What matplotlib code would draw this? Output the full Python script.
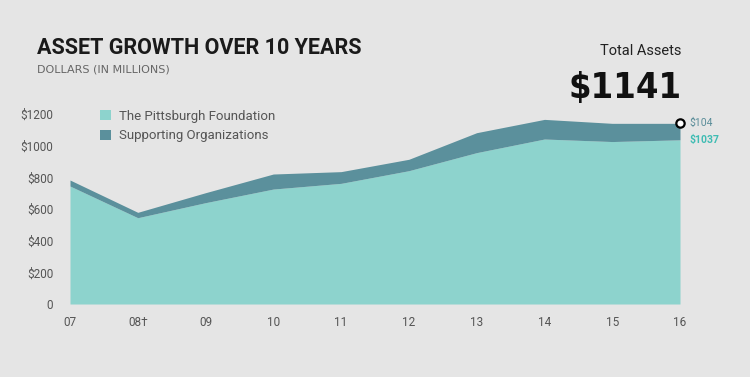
import matplotlib.pyplot as plt
import numpy as np

years = ["07", "08\u2020", "09", "10", "11", "12", "13", "14", "15", "16"]
foundation = [745, 545, 640, 726, 762, 842, 956, 1042, 1026, 1037]
supporting = [38, 34, 63, 95, 74, 72, 126, 124, 115, 104]
y_ticks = [0, 200, 400, 600, 800, 1000, 1200]
y_tick_labels = ["0", "$200", "$400", "$600", "$800", "$1000", "$1200"]

BG = "#e5e5e5"
C_FOUND = "#8dd3cd"
C_SUPP = "#5b909c"
C_TEXT = "#555555"

plt.rcParams["font.family"] = ["Roboto", "DejaVu Sans"]

fig = plt.figure(figsize=(7.5, 3.77), dpi=100, facecolor=BG)
ax = fig.add_axes([70 / 750, 73 / 377, 610 / 750, 190 / 377], facecolor=BG)

x = np.arange(len(years))
found = np.array(foundation)
total = found + np.array(supporting)
ax.fill_between(x, 0, found, color=C_FOUND, lw=0, label="The Pittsburgh Foundation")
ax.fill_between(x, found, total, color=C_SUPP, lw=0, label="Supporting Organizations")

ax.set_xlim(0, len(years) - 1)
ax.set_ylim(0, 1200)
ax.set_xticks(x)
ax.set_xticklabels(years)
ax.set_yticks(y_ticks)
ax.set_yticklabels(y_tick_labels)
ax.tick_params(length=0, labelsize=8.5, colors=C_TEXT)
ax.tick_params(axis="y", pad=12)
ax.tick_params(axis="x", pad=9)
for s in ax.spines.values():
    s.set_visible(False)

leg = ax.legend(loc="upper left", bbox_to_anchor=(0.03, 1.085), frameon=False,
                fontsize=9.5, handlelength=0.8, handleheight=0.8, handletextpad=0.6,
                labelspacing=0.5, labelcolor=C_TEXT)

# end point marker and labels
ax.plot(x[-1], total[-1], "o", ms=6, mfc="white", mec="black", mew=1.6, clip_on=False, zorder=5)
ax.annotate(f"${supporting[-1]}", (x[-1], total[-1]), xytext=(7, 0), textcoords="offset points",
            va="center", ha="left", fontsize=7.5, color="#5a8d99", annotation_clip=False)
ax.annotate(f"${foundation[-1]}", (x[-1], total[-1]), xytext=(7, -12), textcoords="offset points",
            va="center", ha="left", fontsize=7.5, color="#3fbcb3", fontweight="bold",
            annotation_clip=False)

fig.text(37 / 750, 1 - 48 / 377, "ASSET GROWTH OVER 10 YEARS", fontsize=15.5, fontweight="bold",
         color="#1a1a1a", va="center", ha="left")
fig.text(37 / 750, 1 - 70 / 377, "DOLLARS (IN MILLIONS)", fontsize=8, color="#666666",
         family="DejaVu Sans", va="center", ha="left")
fig.text(681 / 750, 1 - 51 / 377, "Total Assets", fontsize=10.5, color="#222222",
         va="center", ha="right")
fig.text(682 / 750, 1 - 88 / 377, f"${total[-1]}", fontsize=26, fontweight="bold",
         family="DejaVu Sans", fontstretch="condensed", color="#111111",
         va="center", ha="right")

fig.savefig("out.png", dpi=100, facecolor=BG)
